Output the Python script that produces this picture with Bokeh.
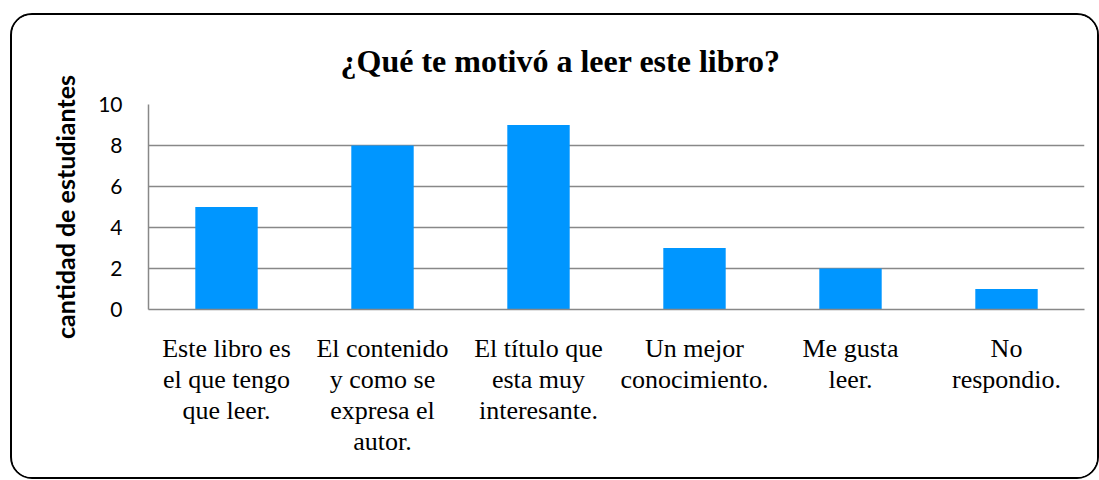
from bokeh.plotting import figure
from bokeh.models import ColumnDataSource, Range1d, LinearAxis, FixedTicker, Title
from bokeh.embed import file_html
from bokeh.resources import INLINE

# ---- data ----
categories = ["Este libro es el que tengo que leer.",
              "El contenido y como se expresa el autor.",
              "El título que esta muy interesante.",
              "Un mejor conocimiento.",
              "Me gusta leer.",
              "No respondio."]
wrapped_labels = ["Este libro es\nel que tengo\nque leer.",
                  "El contenido\ny como se\nexpresa el\nautor.",
                  "El título que\nesta muy\ninteresante.",
                  "Un mejor\nconocimiento.",
                  "Me gusta\nleer.",
                  "No\nrespondio."]
counts = [5, 8, 9, 3, 2, 1]
y_ticks = [0, 2, 4, 6, 8, 10]
title_text = "¿Qué te motivó a leer este  libro?"
y_label = "cantidad de estudiantes"

# category slot centres (one slot per category)
centers = [i + 0.5 for i in range(len(categories))]
src = ColumnDataSource(dict(x=centers, val=counts, cat=categories))

p = figure(x_range=Range1d(0, len(categories)), y_range=Range1d(0, 10),
           width=1089, height=466, output_backend="svg", toolbar_location=None,
           min_border_left=136, min_border_right=17, min_border_top=89, min_border_bottom=172)
p.margin = (13, 0, 0, 10)
p.styles = {"border": "2.5px solid black", "border-radius": "22px", "overflow": "hidden"}
p.background_fill_color = "white"
p.border_fill_color = "white"
p.outline_line_color = None

p.vbar(x="x", top="val", width=0.4, source=src, fill_color="#0096FF", line_color=None)

# grid
p.xgrid.grid_line_color = None
p.ygrid.grid_line_color = "#888888"
p.ygrid.grid_line_width = 1.5
p.yaxis.ticker = y_ticks

# y axis
p.yaxis.axis_line_color = "#888888"
p.yaxis.axis_line_width = 1.5
p.yaxis.major_tick_line_color = None
p.yaxis.minor_tick_line_color = None
p.yaxis.major_tick_out = 0
p.yaxis.major_tick_in = 0
p.yaxis.major_label_standoff = 26
p.yaxis.major_label_text_font = "Lato"
p.yaxis.major_label_text_font_size = "21px"
p.yaxis.major_label_text_color = "black"
p.yaxis.axis_label = y_label
p.yaxis.axis_label_text_font = "Lato"
p.yaxis.axis_label_text_font_style = "bold"
p.yaxis.axis_label_text_font_size = "25px"
p.yaxis.axis_label_text_color = "black"
p.yaxis.axis_label_standoff = 15

# x axes: the main one carries the axis line and first label line,
# extra stacked axes carry the remaining lines of each category label
lines = [lbl.split("\n") for lbl in wrapped_labels]
n_lines = max(len(l) for l in lines)
x_axes = [p.xaxis[0]]
for i in range(1, n_lines):
    ax = LinearAxis()
    p.add_layout(ax, "below")
    x_axes.append(ax)
for i, ax in enumerate(x_axes):
    ax.ticker = FixedTicker(ticks=centers)
    ax.major_label_overrides = {c: (l[i] if i < len(l) else "") for c, l in zip(centers, lines)}
    ax.axis_line_color = "#888888" if i == 0 else None
    ax.axis_line_width = 1.5
    ax.major_tick_line_color = None
    ax.minor_tick_line_color = None
    ax.major_tick_out = 0
    ax.major_tick_in = 0
    ax.minor_tick_out = 0
    ax.minor_tick_in = 0
    ax.major_label_text_font = "Liberation Serif"
    ax.major_label_text_font_size = "26px"
    ax.major_label_text_color = "black"
    ax.major_label_standoff = 24 if i == 0 else -1

# title
p.title = Title(text=title_text, align="left", offset=192, standoff=50,
                vertical_align="middle",
                text_font="Liberation Serif", text_font_style="bold",
                text_font_size="32px", text_color="black")

open("out.html", "w").write(file_html(p, INLINE))
